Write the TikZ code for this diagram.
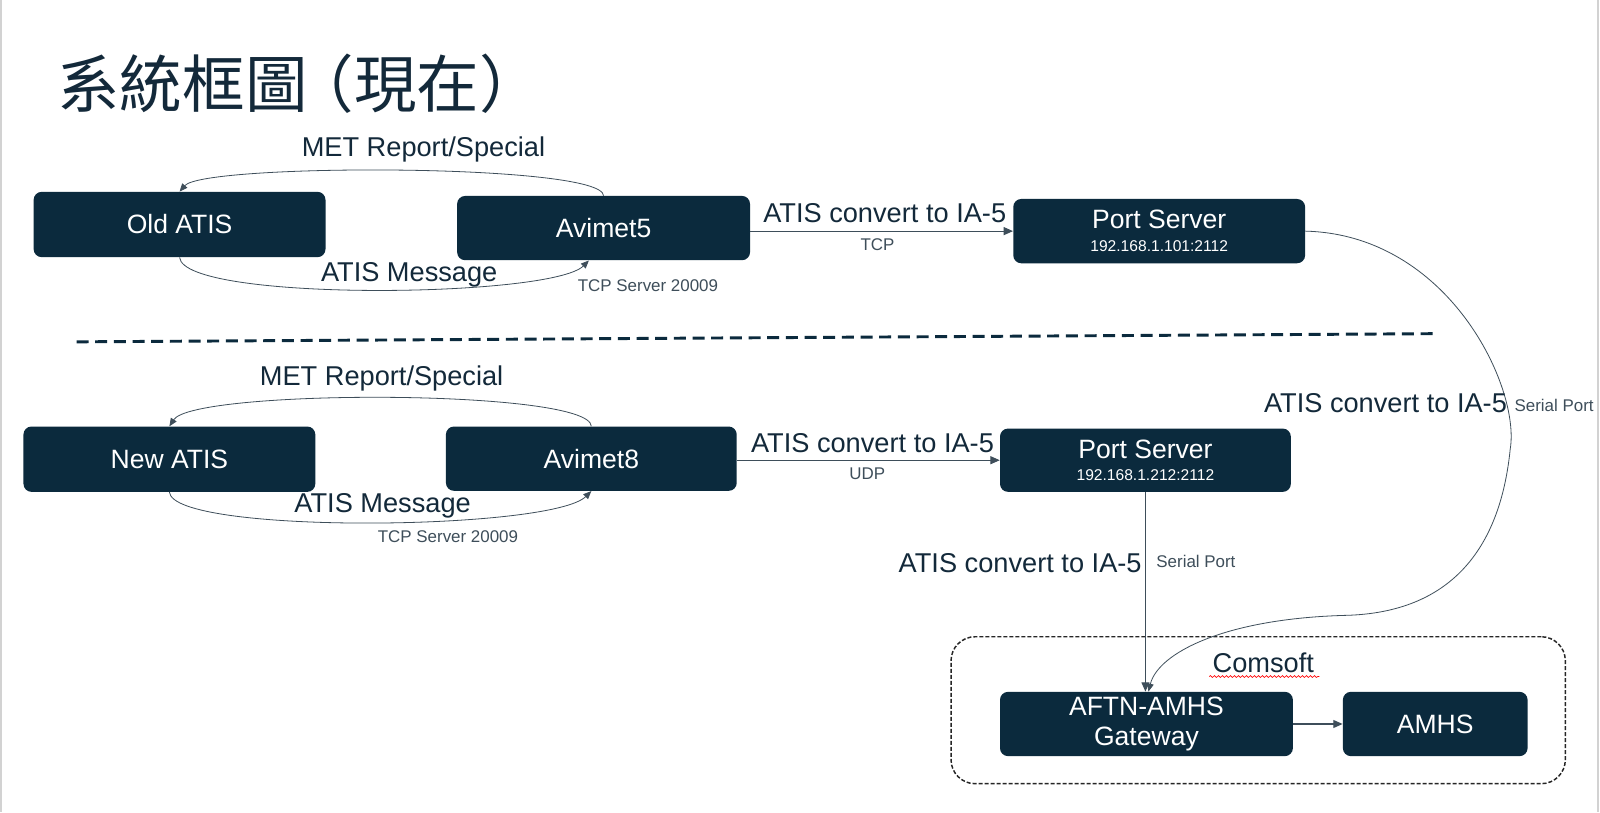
\documentclass[tikz,border=0pt]{standalone}
\usepackage{fontspec}
\setmainfont{Liberation Sans}
\newfontfamily\cjk{Noto Sans CJK TC}
\usetikzlibrary{arrows.meta,decorations.pathmorphing}
\definecolor{boxc}{HTML}{0B2A3D}
\definecolor{txtc}{HTML}{13293A}
\definecolor{linec}{HTML}{3E4E5A}
\def\pxu{0.7653}
\begin{document}
\begin{tikzpicture}[x=\pxu pt,y=-\pxu pt,
  box/.style={fill=boxc, rounded corners=6pt, text=white, font=\fontsize{19.9}{22}\selectfont, inner sep=0pt, align=center},
  lab/.style={text=txtc, font=\fontsize{20.4}{23}\selectfont, inner sep=0pt},
  small/.style={text=linec, font=\fontsize{12.7}{14}\selectfont, inner sep=0pt},
  conn/.style={draw=linec, line width=0.8pt, -{Triangle[length=7pt,width=6pt]}},
  curv/.style={draw=linec, line width=0.6pt, -{Triangle[length=6pt,width=5pt]}},
]
\useasboundingbox (0,0) rectangle (1568,796);
\fill[white] (0,0) rectangle (1568,796);
\draw[gray!35, line width=1.5pt] (1,0) -- (1,796);
\draw[gray!35, line width=1.5pt] (1566,0) -- (1566,796);

% title
\node[anchor=base west, inner sep=0pt, text=txtc, font=\cjk\fontsize{46.9}{50}\selectfont] (title) at (56,105) {系統框圖\kern-0.25em（現在）};

% boxes
\node[box, minimum width=286*\pxu pt, minimum height=64*\pxu pt] (old) at (176,220) {Old ATIS};
\node[box, minimum width=287*\pxu pt, minimum height=63*\pxu pt] (av5) at (591.5,223.5) {Avimet5};
\node[box, minimum width=286*\pxu pt, minimum height=63*\pxu pt] (ps1) at (1136,226.5) {Port Server\\[-5pt]{\fontsize{11.7}{13}\selectfont 192.168.1.101:2112}};
\node[box, minimum width=286*\pxu pt, minimum height=64*\pxu pt] (new) at (166,450) {New ATIS};
\node[box, minimum width=285*\pxu pt, minimum height=63*\pxu pt] (av8) at (579.5,449.5) {Avimet8};
\node[box, minimum width=285*\pxu pt, minimum height=62*\pxu pt] (ps2) at (1122.5,451) {Port Server\\[-5pt]{\fontsize{11.7}{13}\selectfont 192.168.1.212:2112}};
\node[box, minimum width=287*\pxu pt, minimum height=63*\pxu pt] (gw) at (1123.5,709.5) {AFTN-AMHS\\[0pt]Gateway};
\node[box, minimum width=181*\pxu pt, minimum height=63*\pxu pt] (amhs) at (1406.5,709.5) {AMHS};
\node[draw=black!85, line width=1.1pt, dash pattern=on 3pt off 1.5pt, rounded corners=18pt, minimum width=602*\pxu pt, minimum height=144*\pxu pt, inner sep=0pt] (comsoft) at (1233,696) {};
\node[lab] (comsoftlab) at (1238,650) {Comsoft};
\draw[red, line width=0.5pt, decorate, decoration={snake, segment length=3pt, amplitude=0.7pt}] (1185,663) -- (1293,663);

% separator
\draw[boxc, line width=2.2pt, dash pattern=on 9pt off 5pt] (75,335) -- (1405,327);

% upper group
\draw[curv] (av5.north) .. controls (590,160) and (200,160) .. (old.north);
\node[lab] (met1) at (415,146) {MET Report/Special};
\draw[curv] (old.south) .. controls (180,296) and (540,292) .. ([xshift=-11pt]av5.south);
\node[lab] (msg1) at (401,269) {ATIS Message};
\node[small] (tcps1) at (635,280) {TCP Server 20009};
\draw[conn] (ps1.west -| av5.east) -- (ps1.west);
\node[lab] (conv1) at (867,209) {ATIS convert to IA-5};
\node[small] (tcp) at (860,240) {TCP};

% lower group
\draw[curv] (av8.north) .. controls (578,381) and (190,381) .. (new.north);
\node[lab] (met2) at (374,371) {MET Report/Special};
\draw[curv] (new.south) .. controls (170,524) and (540,520) .. (av8.south);
\node[lab] (msg2) at (375,496) {ATIS Message};
\node[small] (tcps2) at (439,526) {TCP Server 20009};
\draw[conn] (ps2.west -| av8.east) -- (ps2.west);
\node[lab] (conv2) at (855,434) {ATIS convert to IA-5};
\node[small] (udp) at (850,464) {UDP};

% to gateway
\draw[conn] (ps2.south) -- (ps2.south |- gw.north);
\node[lab, anchor=east] (conv3) at (1119,552) {ATIS convert to IA-5};
\node[small, anchor=west] (ser3) at (1133,550) {Serial Port};
\draw[curv] (ps1.east) .. controls (1420,230) and (1490,380) .. (1480,440) .. controls (1470,540) and (1420,600) .. (1320,603) .. controls (1200,606) and (1135,640) .. ([xshift=1.5pt]gw.north);
\node[lab, anchor=east] (conv4) at (1477,395) {ATIS convert to IA-5};
\node[small, anchor=west] (ser4) at (1484,397) {Serial Port};
\draw[conn] (gw.east) -- (amhs.west);
\end{tikzpicture}
\end{document}
